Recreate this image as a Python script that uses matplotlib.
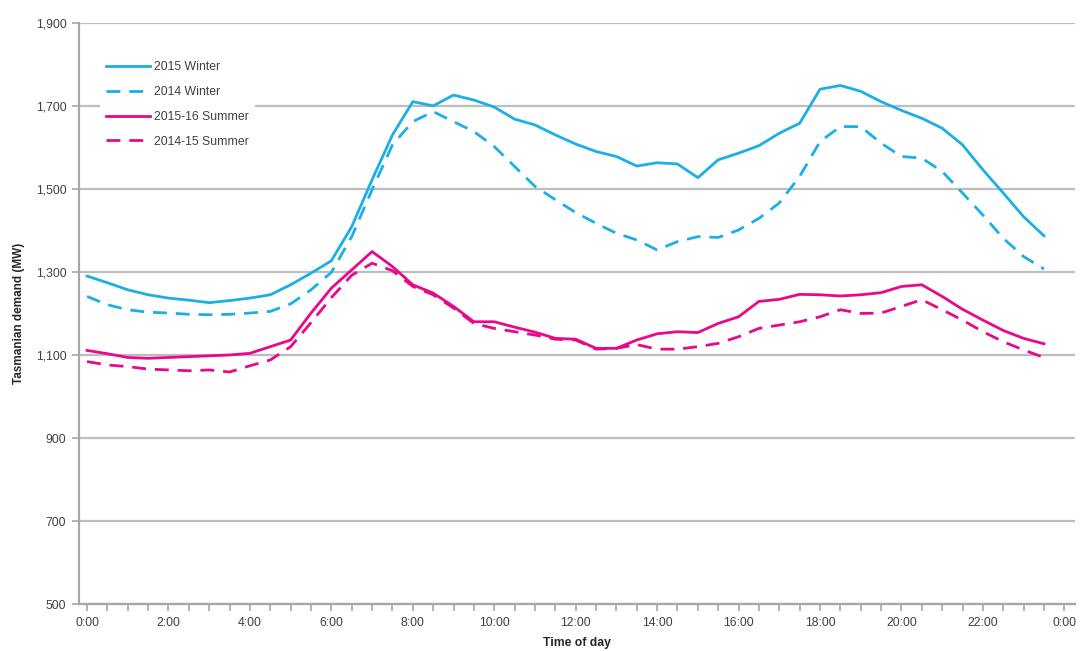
import matplotlib
matplotlib.use("Agg")
import matplotlib.pyplot as plt
import numpy as np

plt.rcParams['font.family'] = ['Liberation Sans', 'DejaVu Sans']

# half-hourly time points (hours)
hours = np.arange(0, 24, 0.5)

winter_2015 = [1290, 1274, 1257, 1245, 1237, 1232, 1226, 1231, 1237, 1245, 1269, 1297,
               1327, 1409, 1522, 1630, 1710, 1700, 1726, 1714, 1697, 1668, 1654, 1630,
               1608, 1590, 1578, 1555, 1563, 1560, 1527, 1570, 1586, 1604, 1634, 1658,
               1740, 1749, 1735, 1710, 1689, 1670, 1646, 1606, 1546, 1490, 1433, 1387]

winter_2014 = [1241, 1221, 1209, 1203, 1201, 1198, 1197, 1198, 1201, 1205, 1223, 1257,
               1299, 1385, 1498, 1606, 1662, 1686, 1662, 1638, 1602, 1554, 1506, 1474,
               1443, 1417, 1393, 1377, 1353, 1373, 1385, 1383, 1401, 1429, 1466, 1530,
               1614, 1650, 1650, 1610, 1578, 1574, 1542, 1490, 1437, 1381, 1337, 1307]

summer_2015_16 = [1111, 1103, 1094, 1092, 1094, 1096, 1098, 1100, 1104, 1120, 1136, 1201,
                  1261, 1305, 1349, 1313, 1269, 1249, 1217, 1180, 1180, 1167, 1155, 1140,
                  1138, 1116, 1116, 1136, 1151, 1156, 1154, 1176, 1192, 1229, 1234, 1246,
                  1245, 1242, 1245, 1250, 1265, 1269, 1241, 1210, 1184, 1159, 1140, 1127]

summer_2014_15 = [1084, 1076, 1072, 1066, 1064, 1062, 1064, 1059, 1074, 1088, 1120, 1178,
                  1238, 1292, 1321, 1303, 1265, 1245, 1213, 1176, 1164, 1156, 1148, 1138,
                  1136, 1114, 1116, 1125, 1114, 1114, 1120, 1128, 1144, 1164, 1172, 1180,
                  1192, 1209, 1200, 1201, 1217, 1233, 1209, 1184, 1156, 1132, 1112, 1094]

series_labels = ["2015 Winter", "2014 Winter", "2015-16 Summer", "2014-15 Summer"]
x_tick_labels = ["0:00", "2:00", "4:00", "6:00", "8:00", "10:00", "12:00",
                 "14:00", "16:00", "18:00", "20:00", "22:00", "0:00"]
y_ticks = [500, 700, 900, 1100, 1300, 1500, 1700, 1900]

blue = "#1CAFE5"
pink = "#E8088A"

fig = plt.figure(figsize=(10.81, 6.51), dpi=100)
ax = fig.add_axes([0.073, 0.072, 0.921, 0.893])

dash = (0, (5, 3.2))
ax.plot(hours, winter_2015, color=blue, lw=2.0, label=series_labels[0], zorder=3)
ax.plot(hours, winter_2014, color=blue, lw=2.0, linestyle=dash, label=series_labels[1], zorder=3)
ax.plot(hours, summer_2015_16, color=pink, lw=2.0, label=series_labels[2], zorder=3)
ax.plot(hours, summer_2014_15, color=pink, lw=2.0, linestyle=dash, label=series_labels[3], zorder=3)

ax.set_xlim(-0.2, 24.25)
ax.set_ylim(500, 1900)
ax.set_yticks(y_ticks)
ax.set_yticklabels([f"{v:,}" for v in y_ticks])
ax.set_xticks(np.arange(0, 25, 2))
ax.set_xticklabels(x_tick_labels)
ax.set_xticks(np.arange(0, 24.01, 0.5), minor=True)

ax.yaxis.grid(True, color="#BDBDBD", lw=1.6, zorder=0)
ax.set_axisbelow(True)
for s in ["top", "right"]:
    ax.spines[s].set_visible(False)
for s in ["left", "bottom"]:
    ax.spines[s].set_color("#A6A6A6")
    ax.spines[s].set_linewidth(1.6)

ax.tick_params(axis="both", which="both", colors="#A6A6A6", labelcolor="#404040",
               labelsize=8.8, direction="out")
ax.tick_params(axis="x", which="major", length=5, width=1.2, pad=4)
ax.tick_params(axis="x", which="minor", length=5, width=1.2)
ax.tick_params(axis="y", which="major", length=5, width=1.2, pad=4)

ax.set_xlabel("Time of day", fontsize=8.8, fontweight="bold", color="#262626", labelpad=6)
ax.set_ylabel("Tasmanian demand (MW)", fontsize=8.5, fontweight="bold", color="#262626", labelpad=8)

leg = ax.legend(loc="upper left", bbox_to_anchor=(0.015, 0.955), frameon=True,
                fontsize=8.8, handlelength=3.6, labelspacing=1.05, handletextpad=0.3,
                borderpad=0.5)
leg.get_frame().set_facecolor("white")
leg.get_frame().set_edgecolor("none")
leg.get_frame().set_alpha(1.0)
for t in leg.get_texts():
    t.set_color("#404040")

fig.savefig("out.png", dpi=100)
